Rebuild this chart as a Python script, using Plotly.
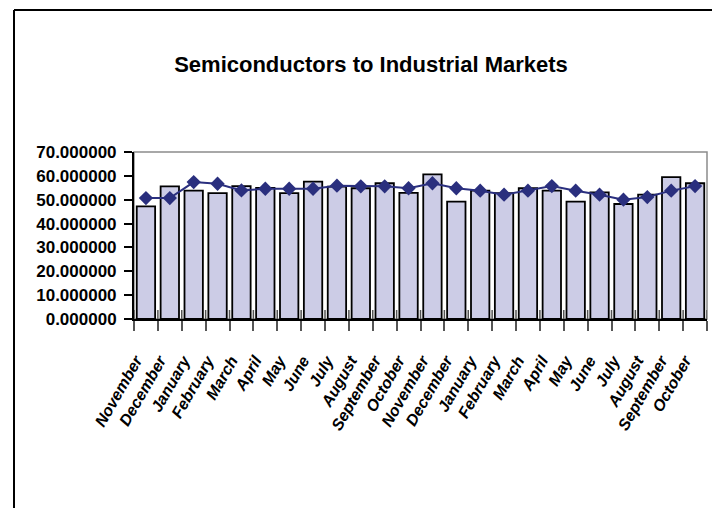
import plotly.graph_objects as go

# Monthly series, November through October over two years
months = ["November", "December", "January", "February", "March", "April",
          "May", "June", "July", "August", "September", "October",
          "November", "December", "January", "February", "March", "April",
          "May", "June", "July", "August", "September", "October"]

monthly_values = [47.2, 55.6, 53.8, 52.8, 55.7, 54.9, 52.8, 57.6, 55.5, 54.8, 56.9, 52.9,
                  60.6, 49.2, 53.8, 52.8, 54.8, 53.8, 49.2, 53.1, 48.2, 52.1, 59.5, 56.9]

trend_values = [50.7, 50.7, 57.4, 56.7, 53.9, 54.6, 54.6, 54.6, 55.9, 55.6, 55.6, 54.8,
                56.9, 54.8, 53.8, 52.1, 53.8, 55.7, 53.8, 52.1, 50.0, 51.1, 53.8, 55.7]

y_tick_values = [0, 10, 20, 30, 40, 50, 60, 70]

# positional index keeps repeated month names as separate categories
x_idx = list(range(len(months)))
boundaries = [i - 0.5 for i in x_idx] + [len(months) - 0.5]

BAR_FILL = "#CCCCE6"
LINE_COLOR = "#2A2F7E"
FONT = "Liberation Sans, Arial, sans-serif"

W, H = 712, 508
L, R, T, B = 134, 5, 152, 189
plot_w = W - L - R
plot_h = H - T - B


def px_to_paper_x(px):
    return (px - L) / plot_w


def px_to_paper_y(py):
    return (H - B - py) / plot_h


fig = go.Figure()

fig.add_trace(go.Bar(
    x=x_idx, y=monthly_values,
    marker=dict(color=BAR_FILL, line=dict(color="black", width=1.8)),
    showlegend=False,
))

fig.add_trace(go.Scatter(
    x=x_idx, y=trend_values, mode="lines+markers",
    line=dict(color=LINE_COLOR, width=2),
    marker=dict(symbol="diamond", size=11, color=LINE_COLOR),
    showlegend=False,
))

shapes = [
    # grey frame around the plotting area
    dict(type="rect", xref="paper", yref="paper", x0=0, x1=1, y0=0, y1=1,
         line=dict(color="#8C8C8C", width=1.5), layer="below"),
    # outer chart frame (left and top edges)
    dict(type="line", xref="paper", yref="paper",
         x0=px_to_paper_x(14), x1=px_to_paper_x(14),
         y0=px_to_paper_y(10), y1=px_to_paper_y(520),
         line=dict(color="black", width=2)),
    dict(type="line", xref="paper", yref="paper",
         x0=px_to_paper_x(14), x1=px_to_paper_x(720),
         y0=px_to_paper_y(10), y1=px_to_paper_y(10),
         line=dict(color="black", width=2)),
]
# category dividers also reach a little above the axis line
for bnd in boundaries:
    shapes.append(dict(type="line", xref="x", yref="paper",
                       x0=bnd, x1=bnd, y0=0, y1=9 / plot_h,
                       line=dict(color="#555555", width=1.5)))

fig.update_layout(
    width=W, height=H,
    margin=dict(l=L, r=R, t=T, b=B, pad=0),
    paper_bgcolor="white", plot_bgcolor="white",
    bargap=0.23,
    shapes=shapes,
    title=dict(
        text="Semiconductors to Industrial Markets",
        x=371 / W, xanchor="center",
        y=1 - 64 / H, yanchor="middle",
        font=dict(family=FONT, size=22, color="black", weight="bold"),
    ),
    xaxis=dict(
        type="linear",
        range=[-0.5, len(months) - 0.5],
        tickmode="array", tickvals=x_idx,
        ticktext=[f"<i>{m}</i>" for m in months],
        tickangle=-60,
        tickfont=dict(family=FONT, size=16, color="black",
                      weight="bold", style="italic"),
        ticks="", showgrid=False, zeroline=False,
        showline=True, linecolor="black", linewidth=2,
        ticklabelstandoff=24, ticklabelshift=-10,
        minor=dict(tickmode="array", tickvals=boundaries,
                   ticks="outside", ticklen=10, tickcolor="#555555", tickwidth=1.5),
    ),
    yaxis=dict(
        range=[0, 70],
        tickmode="array", tickvals=y_tick_values,
        tickformat=".6f",
        tickfont=dict(family=FONT, size=17, color="black", weight="bold"),
        ticks="outside", ticklen=8, tickcolor="black", tickwidth=1.5,
        showgrid=False, zeroline=False,
        showline=True, linecolor="black", linewidth=2,
        ticklabelstandoff=4,
    ),
)

fig.write_html("out.html")
